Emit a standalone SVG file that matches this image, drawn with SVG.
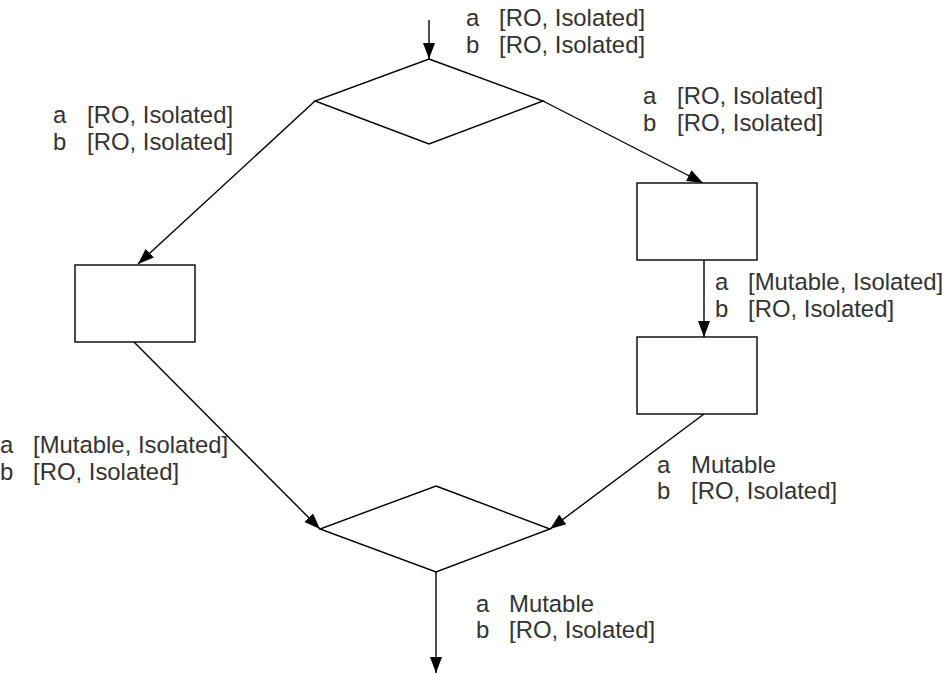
<svg xmlns="http://www.w3.org/2000/svg" width="943" height="674" viewBox="0 0 943 674">
<style>
.shape{fill:#ffffff;stroke:#000000;stroke-width:1.4}
.conn{fill:none;stroke:#000000;stroke-width:1.4}
.lbl{font-family:"Liberation Sans",Arial,sans-serif;font-size:23.9px;fill:#333333}
</style>
<defs>
<marker id="arr" viewBox="0 0 16 12" refX="16" refY="6" markerWidth="16" markerHeight="12" markerUnits="userSpaceOnUse" orient="auto">
<path d="M0,0 L16,6 L0,12 Z" fill="#000000"/>
</marker>
</defs>
<rect width="943" height="674" fill="#ffffff"/>
<g id="connectors">
<line class="conn" x1="429" y1="20" x2="429" y2="59" marker-end="url(#arr)"/>
<line class="conn" x1="315" y1="101" x2="138" y2="264" marker-end="url(#arr)"/>
<line class="conn" x1="543" y1="101" x2="703" y2="183" marker-end="url(#arr)"/>
<line class="conn" x1="704" y1="260" x2="704" y2="337" marker-end="url(#arr)"/>
<line class="conn" x1="134" y1="342" x2="320" y2="529" marker-end="url(#arr)"/>
<line class="conn" x1="704" y1="414" x2="550" y2="529" marker-end="url(#arr)"/>
<line class="conn" x1="436" y1="572" x2="436" y2="673" marker-end="url(#arr)"/>
</g>
<g id="decision-top"><polygon class="shape" points="429,59 543,101 429,144 315,101"/></g>
<g id="box-left"><rect class="shape" x="75" y="265" width="120" height="77"/></g>
<g id="box-right-1"><rect class="shape" x="637" y="183" width="120" height="77"/></g>
<g id="box-right-2"><rect class="shape" x="637" y="337" width="120" height="77"/></g>
<g id="decision-bottom"><polygon class="shape" points="436,486 550,529 436,572 320,529"/></g>
<g id="labels">
<text class="lbl" x="466" y="26">a</text><text class="lbl" x="499" y="26">[RO, Isolated]</text>
<text class="lbl" x="466" y="53">b</text><text class="lbl" x="499" y="53">[RO, Isolated]</text>
<text class="lbl" x="53" y="123">a</text><text class="lbl" x="87" y="123">[RO, Isolated]</text>
<text class="lbl" x="53" y="150">b</text><text class="lbl" x="87" y="150">[RO, Isolated]</text>
<text class="lbl" x="643" y="104">a</text><text class="lbl" x="677" y="104">[RO, Isolated]</text>
<text class="lbl" x="643" y="131">b</text><text class="lbl" x="677" y="131">[RO, Isolated]</text>
<text class="lbl" x="715" y="290">a</text><text class="lbl" x="748" y="290">[Mutable, Isolated]</text>
<text class="lbl" x="715" y="317">b</text><text class="lbl" x="748" y="317">[RO, Isolated]</text>
<text class="lbl" x="0" y="453">a</text><text class="lbl" x="33" y="453">[Mutable, Isolated]</text>
<text class="lbl" x="0" y="480">b</text><text class="lbl" x="33" y="480">[RO, Isolated]</text>
<text class="lbl" x="657" y="473">a</text><text class="lbl" x="691" y="473">Mutable</text>
<text class="lbl" x="657" y="499">b</text><text class="lbl" x="691" y="499">[RO, Isolated]</text>
<text class="lbl" x="476" y="612">a</text><text class="lbl" x="509" y="612">Mutable</text>
<text class="lbl" x="476" y="638">b</text><text class="lbl" x="509" y="638">[RO, Isolated]</text>
</g>
</svg>
